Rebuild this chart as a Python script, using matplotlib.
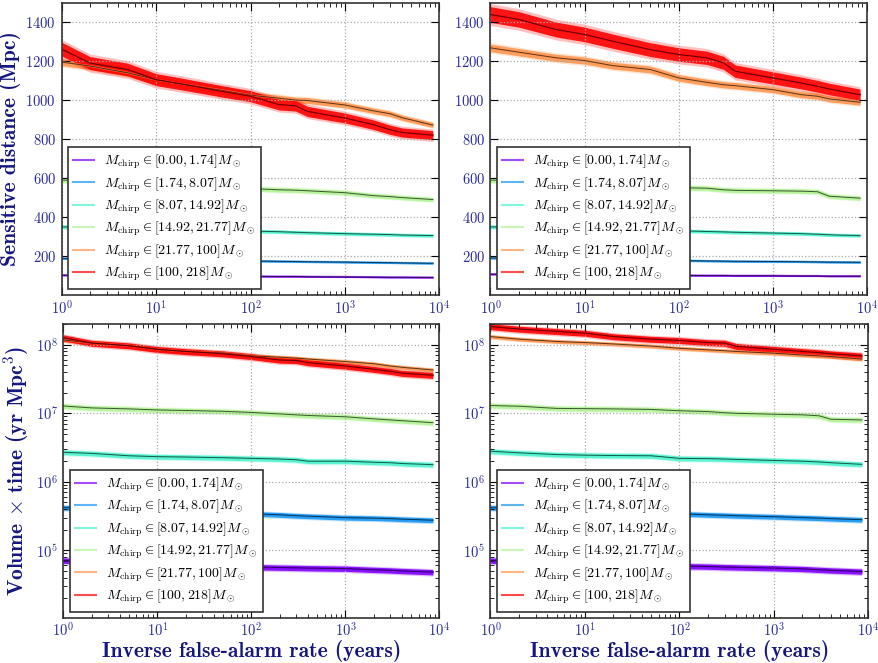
import numpy as np
import matplotlib
matplotlib.use('Agg')
import matplotlib.pyplot as plt

plt.rcParams['font.family'] = 'cmr10'
plt.rcParams['mathtext.fontset'] = 'cm'
plt.rcParams['axes.formatter.use_mathtext'] = True

# inverse false-alarm rate (years)
ifar = [1, 2, 5, 10, 20, 50, 100, 200, 300, 400, 1000, 2000, 3000, 4000, 8500]

labels = [r'$M_{\rm chirp} \in [0.00, 1.74] M_\odot$',
          r'$M_{\rm chirp} \in [1.74, 8.07] M_\odot$',
          r'$M_{\rm chirp} \in [8.07, 14.92] M_\odot$',
          r'$M_{\rm chirp} \in [14.92, 21.77] M_\odot$',
          r'$M_{\rm chirp} \in [21.77, 100] M_\odot$',
          r'$M_{\rm chirp} \in [100, 218] M_\odot$']

# sensitive distance (Mpc), left analysis
dist_a = [
    [102, 101, 100, 99, 98, 97, 96, 95, 95, 94, 93, 92, 91, 91, 90],
    [188, 186, 183, 181, 179, 177, 175, 173, 172, 171, 169, 167, 166, 165, 163],
    [350, 347, 342, 338, 335, 330, 328, 325, 322, 320, 315, 312, 310, 308, 305],
    [590, 585, 575, 565, 560, 552, 546, 540, 538, 535, 525, 510, 505, 500, 490],
    [1195, 1175, 1140, 1105, 1080, 1050, 1025, 1010, 1000, 998, 975, 945, 930, 910, 872],
    [1262, 1190, 1157, 1105, 1080, 1045, 1020, 977, 971, 942, 908, 874, 848, 834, 820],
]
# sensitive distance (Mpc), right analysis
dist_b = [
    [107, 106, 105, 104, 103, 102, 101, 100, 100, 99, 99, 98, 98, 97, 97],
    [190, 188, 185, 183, 181, 179, 177, 175, 174, 173, 172, 171, 170, 169, 168],
    [350, 347, 343, 340, 337, 333, 330, 326, 324, 322, 318, 315, 312, 309, 305],
    [590, 585, 578, 570, 565, 560, 551, 548, 540, 537, 535, 533, 530, 507, 497],
    [1268, 1246, 1217, 1203, 1177, 1157, 1114, 1091, 1079, 1074, 1054, 1028, 1020, 1006, 989],
    [1439, 1414, 1362, 1337, 1302, 1259, 1234, 1217, 1191, 1148, 1114, 1088, 1071, 1057, 1028],
]
# volume x time (yr Mpc^3), left analysis
vt_a = [
    [7.1e4, 6.8e4, 6.4e4, 6.2e4, 6.0e4, 5.8e4, 5.7e4, 5.6e4, 5.55e4, 5.5e4, 5.4e4, 5.2e4, 5.1e4, 5.0e4, 4.8e4],
    [4.2e5, 4.05e5, 3.85e5, 3.7e5, 3.6e5, 3.5e5, 3.42e5, 3.3e5, 3.2e5, 3.15e5, 3.0e5, 2.95e5, 2.9e5, 2.85e5, 2.75e5],
    [2.7e6, 2.6e6, 2.4e6, 2.33e6, 2.3e6, 2.25e6, 2.2e6, 2.15e6, 2.1e6, 2.0e6, 2.0e6, 1.93e6, 1.9e6, 1.85e6, 1.78e6],
    [1.28e7, 1.2e7, 1.16e7, 1.12e7, 1.1e7, 1.07e7, 1.03e7, 9.8e6, 9.5e6, 9.3e6, 8.9e6, 8.3e6, 8.0e6, 7.8e6, 7.3e6],
    [1.18e8, 1.06e8, 9.7e7, 8.6e7, 8.0e7, 7.6e7, 6.9e7, 6.6e7, 6.4e7, 6.2e7, 5.7e7, 5.3e7, 4.9e7, 4.7e7, 4.3e7],
    [1.27e8, 1.06e8, 9.7e7, 8.6e7, 8.0e7, 7.4e7, 6.75e7, 6.0e7, 5.9e7, 5.5e7, 4.9e7, 4.4e7, 4.1e7, 3.85e7, 3.6e7],
]
# volume x time (yr Mpc^3), right analysis
vt_b = [
    [7.1e4, 6.8e4, 6.5e4, 6.3e4, 6.1e4, 6.0e4, 5.9e4, 5.8e4, 5.7e4, 5.65e4, 5.5e4, 5.35e4, 5.2e4, 5.1e4, 4.9e4],
    [4.2e5, 4.05e5, 3.85e5, 3.75e5, 3.65e5, 3.5e5, 3.42e5, 3.3e5, 3.25e5, 3.2e5, 3.1e5, 3.0e5, 2.95e5, 2.9e5, 2.8e5],
    [2.8e6, 2.65e6, 2.5e6, 2.45e6, 2.42e6, 2.4e6, 2.2e6, 2.18e6, 2.15e6, 2.12e6, 2.05e6, 2.0e6, 1.95e6, 1.9e6, 1.8e6],
    [1.3e7, 1.27e7, 1.18e7, 1.17e7, 1.16e7, 1.14e7, 1.09e7, 1.06e7, 1.02e7, 1.0e7, 9.7e6, 9.5e6, 9.2e6, 8.2e6, 8.0e6],
    [1.32e8, 1.21e8, 1.12e8, 1.08e8, 1.03e8, 9.6e7, 8.9e7, 8.45e7, 8.2e7, 8.0e7, 7.55e7, 7.1e7, 6.9e7, 6.75e7, 6.2e7],
    [1.85e8, 1.7e8, 1.57e8, 1.48e8, 1.32e8, 1.21e8, 1.16e8, 1.08e8, 1.06e8, 9.5e7, 8.6e7, 8.0e7, 7.7e7, 7.4e7, 6.9e7],
]
# relative half-width of the uncertainty band for each bin
err_dist = [0.03, 0.025, 0.025, 0.022, 0.015, 0.028]
err_vt = [0.09, 0.08, 0.08, 0.08, 0.06, 0.1]

colors = plt.cm.rainbow(np.linspace(0, 1, 6))
tick_col = '#2a2a9a'
label_col = '#161680'

fig = plt.figure(figsize=(8.79, 6.63), dpi=100)
axes = [fig.add_axes([0.070, 0.555, 0.430, 0.441]),
        fig.add_axes([0.558, 0.555, 0.428, 0.441]),
        fig.add_axes([0.072, 0.068, 0.428, 0.443]),
        fig.add_axes([0.558, 0.068, 0.430, 0.443])]
panels = [(dist_a, err_dist), (dist_b, err_dist), (vt_a, err_vt), (vt_b, err_vt)]

x = np.array(ifar)
for k, (ax, (data, errs)) in enumerate(zip(axes, panels)):
    for i in range(6):
        y = np.array(data[i])
        e = errs[i]
        ax.fill_between(x, y * (1 - 1.4 * e), y * (1 + 1.4 * e), color=colors[i], alpha=0.25, lw=0)
        ax.fill_between(x, y * (1 - e), y * (1 + e), color=colors[i], alpha=0.9, lw=0)
        ax.plot(x, y, color=colors[i], lw=1.5, alpha=0.7, label=labels[i])
        ax.plot(x, y, color='k', lw=0.7, alpha=0.65)
    ax.set_xscale('log')
    ax.set_xlim(1, 1e4)
    if k < 2:
        ax.set_ylim(0, 1500)
        ax.set_yticks(range(200, 1401, 200))
    else:
        ax.set_yscale('log')
        ax.set_ylim(1.03e4, 2e8)
        ax.set_xlabel('Inverse false-alarm rate (years)', family='cmb10', fontsize=15.5,
                      color=label_col, labelpad=0)
    ax.grid(True, which='major', ls=':', color='#aaaaaa', lw=0.9)
    ax.tick_params(which='both', direction='in', top=True, right=True, labelsize=10.5,
                   labelcolor=tick_col, pad=3)
    ax.tick_params(axis='y', which='both', pad=4)
    ax.tick_params(which='major', length=6)
    ax.tick_params(which='minor', length=3)
    for s in ax.spines.values():
        s.set_color('#333333')
        s.set_linewidth(1.2)
    leg = ax.legend(loc='lower left', fontsize=10, fancybox=False, framealpha=1,
                    edgecolor='#333333', handlelength=1.5, handletextpad=0.7,
                    labelspacing=0.3, borderaxespad=0.45)
    leg.get_frame().set_linewidth(1.2)

axes[0].set_ylabel('Sensitive distance (Mpc)', family='cmb10', fontsize=15.5, color=label_col,
                   labelpad=3)
axes[2].set_ylabel(r'Volume $\times$ time (yr Mpc$^{\mathbf{3}}$)', family='cmb10', fontsize=15.5,
                   color=label_col, labelpad=3)

fig.savefig('out.png', dpi=100)
